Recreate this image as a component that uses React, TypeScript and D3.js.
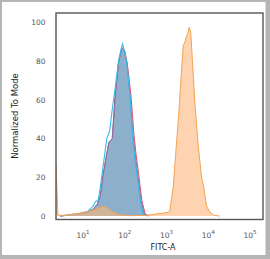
import React from "react";
import * as d3 from "d3";

// log10(FITC-A) positions and normalized-to-mode values
const orangeLog = [0.354, 0.40, 0.50, 0.69, 0.93, 1.17, 1.34, 1.43, 1.50, 1.58, 1.67, 1.79, 1.93, 2.13, 2.49, 2.73, 2.92, 3.04, 3.08, 3.16, 3.23, 3.29, 3.35, 3.40, 3.44, 3.48, 3.52, 3.54, 3.58, 3.62, 3.68, 3.76, 3.84, 3.89, 3.96, 4.04, 4.14, 4.28];
const orangeVal = [27, 0.5, 0.3, 0.8, 1.5, 2.5, 3.8, 4.6, 5.0, 4.2, 2.8, 1.3, 0.5, 0.2, 0.3, 1.0, 1.5, 2.0, 3, 15, 35, 52, 72, 88, 90, 93, 95, 97.5, 95, 80, 58, 36, 20, 15, 5, 2, 0.3, 0];

const blueLog = [0.45, 0.69, 0.93, 1.12, 1.24, 1.34, 1.41, 1.48, 1.55, 1.62, 1.70, 1.77, 1.85, 1.92, 1.96, 2.0, 2.05, 2.13, 2.20, 2.25, 2.31, 2.39, 2.47, 2.56];
const blueVal = [0, 0.5, 1.2, 2.0, 3.5, 6, 10, 21, 30, 38, 40, 62, 79, 86, 87, 85, 79, 62, 42, 32, 22, 8, 1, 0];

const cyanLog = [0.45, 0.69, 0.93, 1.12, 1.24, 1.30, 1.36, 1.41, 1.46, 1.52, 1.57, 1.64, 1.70, 1.77, 1.85, 1.92, 1.95, 1.98, 2.05, 2.13, 2.19, 2.25, 2.30, 2.38, 2.44, 2.52];
const cyanVal = [0, 0.6, 1.4, 2.5, 5, 7.5, 8, 14, 22, 32, 40, 44, 55, 66, 80, 87, 89, 86, 79, 61, 40, 28, 20, 7, 1, 0];

const redLog = [0.45, 0.69, 0.93, 1.12, 1.24, 1.34, 1.41, 1.48, 1.55, 1.62, 1.70, 1.77, 1.85, 1.92, 1.96, 2.0, 2.06, 2.15, 2.22, 2.27, 2.33, 2.41, 2.49, 2.58];
const redVal = [0, 0.5, 1.2, 2.0, 3.5, 6, 10, 21, 30, 38, 40, 62, 79, 86, 87, 85, 79, 62, 42, 32, 22, 8, 1, 0];

const yTicks = [0, 20, 40, 60, 80, 100];
const xTickExp = [1, 2, 3, 4, 5];

const W = 270, H = 259;
const left = 56, right = 263, top = 13, bottom = 219.5;

export default function App() {
  const x = d3.scaleLinear().domain([0.354, 5.31]).range([left, right]);
  const y = d3.scaleLinear().domain([-1.8, 104.9]).range([bottom, top]);

  const pts = (lx: number[], v: number[]) => lx.map((l, i) => [l, v[i]] as [number, number]);
  const area = d3.area<[number, number]>().x(d => x(d[0])).y0(y(0)).y1(d => y(d[1]));
  const line = d3.line<[number, number]>().x(d => x(d[0])).y(d => y(d[1]));

  const blue = pts(blueLog, blueVal);
  const orange = pts(orangeLog, orangeVal);
  const cyan = pts(cyanLog, cyanVal);
  const red = pts(redLog, redVal);

  const font = "'DejaVu Sans', Verdana, sans-serif";

  return (
    <svg width={W} height={H} style={{ position: "absolute", left: 0, top: 0 }}>
      <rect x={0} y={0} width={W} height={H} fill="#b5b5b5" />
      <rect x={2} y={2} width={263.5} height={253} fill="#ffffff" />
      <defs>
        <clipPath id="plot">
          <rect x={left} y={top} width={right - left} height={bottom - top} />
        </clipPath>
      </defs>
      <g clipPath="url(#plot)">
        <path d={area(blue) || ""} fill="#8cafcb" stroke="none" />
        <path d={line(red) || ""} fill="none" stroke="#e5486a" strokeWidth={1} />
        <path d={line(blue) || ""} fill="none" stroke="#7f6fa5" strokeWidth={0.9} />
        <path d={line(cyan) || ""} fill="none" stroke="#35bde9" strokeWidth={1.1} />
        <path d={area(orange) || ""} fill="#fbb77a" fillOpacity={0.6} stroke="none" />
        <path d={line(orange) || ""} fill="none" stroke="#f3a254" strokeWidth={1} />
      </g>
      <rect x={left} y={top} width={right - left} height={bottom - top} fill="none" stroke="#555" strokeWidth={1.4} />
      {yTicks.map(t => (
        <text key={t} x={45.5} y={y(t)} dy="0.35em" textAnchor="end" fontSize={7.5} fill="#555" fontFamily={font}>{t}</text>
      ))}
      {xTickExp.map(e => (
        <text key={e} x={x(e)} y={238} textAnchor="middle" fontSize={7.5} fill="#555" fontFamily={font}>
          10<tspan dy={-4} fontSize={5.5}>{e}</tspan>
        </text>
      ))}
      <text x={163} y={250} textAnchor="middle" fontSize={8} fill="#222" fontFamily={font}>FITC-A</text>
      <text transform={`translate(18,116) rotate(-90)`} textAnchor="middle" fontSize={8.5} fill="#222" fontFamily={font}>Normalized To Mode</text>
    </svg>
  );
}
